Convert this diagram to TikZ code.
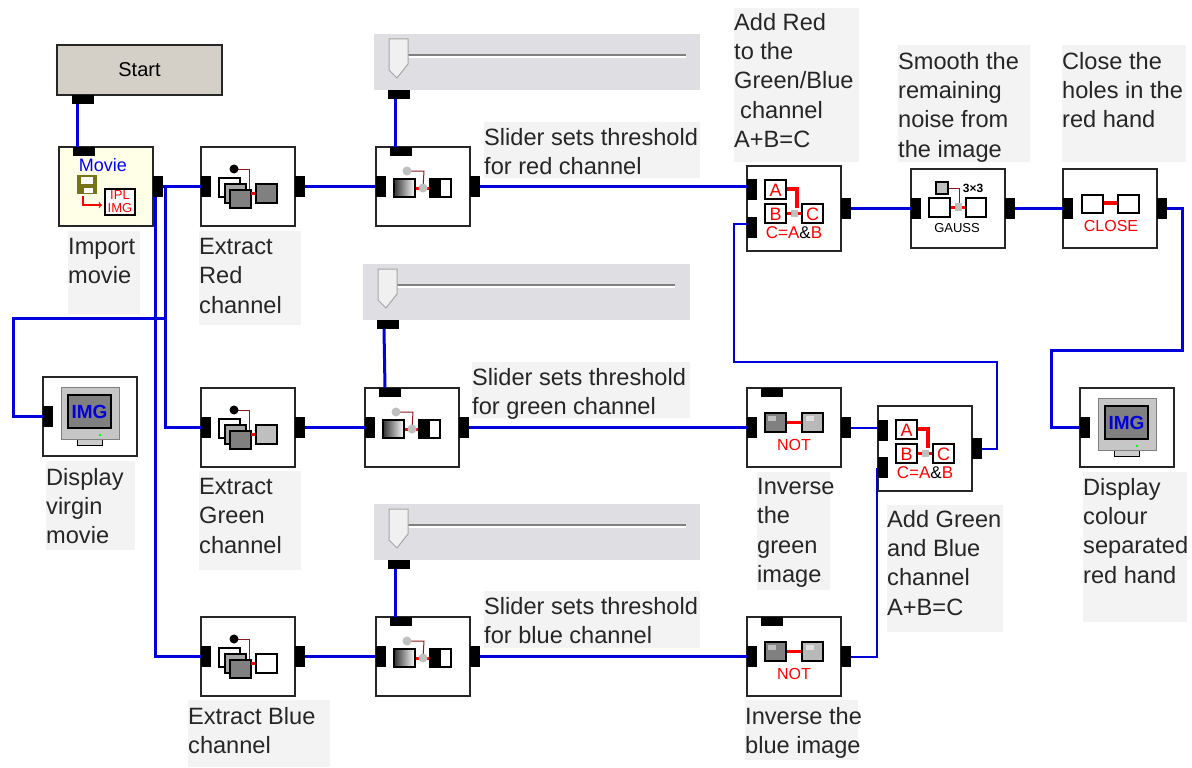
\documentclass[tikz,border=0pt]{standalone}
\usepackage{fontspec}
\setmainfont{Liberation Sans}
\usepackage{tikz}
\usetikzlibrary{calc}

\definecolor{wireblue}{HTML}{0000DD}
\definecolor{notegray}{HTML}{F3F3F3}
\definecolor{panelgray}{HTML}{DEDEE3}
\definecolor{startgray}{HTML}{D4D0C8}
\definecolor{movieyellow}{HTML}{FFFFE8}
\definecolor{inkgray}{HTML}{262626}
\definecolor{linkbrown}{HTML}{8B1A1A}
\definecolor{linkred}{HTML}{FF0000}

\tikzset{
  blockbox/.style={draw=inkgray,line width=1.4pt,fill=white,anchor=north west,inner sep=0pt,outer sep=0pt,minimum width=94pt,minimum height=79pt},
  vport/.style={fill=black,inner sep=0pt,outer sep=0pt,minimum width=10pt,minimum height=21pt},
  hport/.style={fill=black,inner sep=0pt,outer sep=0pt,minimum width=22pt,minimum height=9pt},
  wire/.style={wireblue,line width=3pt},
  thinwire/.style={wireblue,line width=2pt},
  notebg/.style={fill=notegray,inner sep=0pt,outer sep=0pt,anchor=north west},
  notetxt/.style={inner sep=0pt,anchor=north west,align=left,text=inkgray,font=\fontsize{23.6}{29.3}\selectfont,execute at begin node=\strut},
  chip/.style={draw=black,line width=1.2pt},
  tiny/.style={inner sep=0pt,font=\fontsize{#1}{#1}\selectfont},
  % icons, drawn from the top left corner of their block
  pics/extracticon/.style={code={
    \draw[linkbrown,line width=1pt] (33,22) -- (48,22) -- (48,43);
    \fill[black] (33,22) circle (4.5);
    \draw[chip,fill=white] (18,31) rectangle (39,50);
    \draw[chip,fill=gray!70] (24,37) rectangle (45,56);
    \draw[chip,fill=gray] (29,43) rectangle (50,61);
    \draw[linkred,line width=3pt] (50,46) -- (55,46);
    \draw[chip,fill=#1] (55,37) rectangle (76,56);
  }},
  pics/slidericon/.style={code={
    \draw[linkbrown,line width=1pt] (31,24) -- (48,24) -- (47,41);
    \draw[linkred,line width=3pt] (39,41) -- (54,41);
    \draw[chip,left color=black!80,right color=white] (18,32) rectangle (39,50);
    \draw[chip,fill=white] (54,32) rectangle (75,50);
    \fill[black] (54,32) rectangle (65,50);
    \fill[gray!50] (31,24) circle (4.5);
    \fill[gray!50] (47,41) circle (4.5);
  }},
  pics/andicon/.style={code={
    \draw[linkred,line width=4pt] (39,23) -- (50,23) -- (50,42);
    \draw[linkred,line width=3pt] (39,47) -- (55,47);
    \fill[gray!50] (44,44) rectangle (51,51);
    \draw[chip] (18,14) rectangle (39,33);
    \draw[chip] (18,38) rectangle (39,57);
    \draw[chip] (55,38) rectangle (76,57);
    \node[tiny=18,text=linkred] (a-txt) at (28.5,24) {A};
    \node[tiny=18,text=linkred] (b-txt) at (28.5,48) {B};
    \node[tiny=18,text=linkred] (c-txt) at (65.5,48) {C};
    \node[tiny=17,text=linkred] (eq-txt) at (47,67) {C=A\textcolor{black}{\&}B};
  }},
  pics/noticon/.style={code={
    \draw[linkred,line width=3pt] (39,34) -- (55,34);
    \draw[chip,fill=gray] (18,25) rectangle (39,44);
    \fill[gray!50] (21,28) rectangle (29,33);
    \draw[chip,fill=gray!55] (55,25) rectangle (76,44);
    \fill[gray!25] (59,28) rectangle (67,33);
    \node[tiny=16,text=linkred] (not-txt) at (47,57) {NOT};
  }},
  pics/screenicon/.style={code={
    \draw[black,fill=gray!40] (34,60) rectangle (59,68);
    \draw[gray,line width=1pt,fill=gray!45] (18,10) rectangle (76,62);
    \draw[black,line width=1.2pt,fill=gray] (25,18) rectangle (68,51);
    \fill[green] (56,57) rectangle (58,59);
    \node[inner sep=0pt,text=wireblue,font=\fontsize{19}{19}\bfseries\selectfont] (img-txt) at (46.5,35) {IMG};
  }},
  pics/thumbicon/.style={code={
    \draw[gray,line width=2pt] (34,21) -- (312,21);
    \draw[white,line width=1.5pt] (34,23) -- (312,23);
    \draw[gray!70,line width=1pt,fill=gray!12] (15,5) -- (34,5) -- (34,30) -- (23,44) -- (15,36) -- cycle;
  }}
}

\begin{document}
\begin{tikzpicture}[x=1pt,y=-1pt]
  \useasboundingbox (0,0) rectangle (1192,768);

  % Grey panels behind the notes
  \node[notebg,minimum width=72pt,minimum height=83pt] (import-bg) at (68,231) {};
  \node[notebg,minimum width=102pt,minimum height=94pt] (exred-bg) at (199,231) {};
  \node[notebg,minimum width=216pt,minimum height=56pt] (slred-bg) at (484,122) {};
  \node[notebg,minimum width=125pt,minimum height=154pt] (addred-bg) at (734,8) {};
  \node[notebg,minimum width=132pt,minimum height=117pt] (smooth-bg) at (898,45) {};
  \node[notebg,minimum width=124pt,minimum height=117pt] (closing-bg) at (1062,45) {};
  \node[notebg,minimum width=89pt,minimum height=89pt] (virgin-bg) at (46,461) {};
  \node[notebg,minimum width=102pt,minimum height=99pt] (exgreen-bg) at (199,471) {};
  \node[notebg,minimum width=218pt,minimum height=56pt] (slgreen-bg) at (472,362) {};
  \node[notebg,minimum width=73pt,minimum height=118pt] (invgreen-bg) at (757,472) {};
  \node[notebg,minimum width=116pt,minimum height=127pt] (addgreen-bg) at (887,505) {};
  \node[notebg,minimum width=104pt,minimum height=150pt] (colour-bg) at (1083,472) {};
  \node[notebg,minimum width=142pt,minimum height=67pt] (exblue-bg) at (188,700) {};
  \node[notebg,minimum width=216pt,minimum height=57pt] (slblue-bg) at (484,591) {};
  \node[notebg,minimum width=113pt,minimum height=60pt] (invblue-bg) at (745,700) {};

  % Notes
  \node[notetxt] (import) at (68,238) {Import\\movie};
  \node[notetxt] (exred) at (199,238) {Extract\\Red\\channel};
  \node[notetxt] (slred) at (484,128) {Slider sets threshold\\for red channel};
  \node[notetxt] (addrednote) at (734,13) {Add Red\\to the\\Green/Blue\\\hspace*{6pt}channel\\A+B=C};
  \node[notetxt] (smooth) at (898,52) {Smooth the\\remaining\\noise from\\the image};
  \node[notetxt] (closing) at (1062,52) {Close the\\holes in the\\red hand};
  \node[notetxt] (virgin) at (46,468) {Display\\virgin\\movie};
  \node[notetxt] (exgreen) at (199,478) {Extract\\Green\\channel};
  \node[notetxt] (slgreen) at (472,368) {Slider sets threshold\\for green channel};
  \node[notetxt] (invgreen) at (757,478) {Inverse\\the\\green\\image};
  \node[notetxt] (addgreennote) at (887,510) {Add Green\\and Blue\\channel\\A+B=C};
  \node[notetxt] (colour) at (1083,478) {Display\\colour\\separated\\red hand};
  \node[notetxt] (exblue) at (188,707) {Extract Blue\\channel};
  \node[notetxt] (slblue) at (484,597) {Slider sets threshold\\for blue channel};
  \node[notetxt] (invblue) at (745,707) {Inverse the\\blue image};

  % Slider panels
  \node[notebg,fill=panelgray,minimum width=326pt,minimum height=56pt] (thumbred) at (374,34) {};
  \node[notebg,fill=panelgray,minimum width=327pt,minimum height=56pt] (thumbgreen) at (363,264) {};
  \node[notebg,fill=panelgray,minimum width=326pt,minimum height=56pt] (thumbblue) at (374,504) {};
  \pic at (374,34) {thumbicon};
  \pic at (363,264) {thumbicon};
  \pic at (374,504) {thumbicon};

  % Blocks
  \node[blockbox,fill=startgray,minimum width=165pt,minimum height=50pt,font=\fontsize{20}{20}\selectfont] (start) at (57,45) {Start};
  \node[blockbox,fill=movieyellow] (movie) at (59,147) {};
  \node[blockbox] (red) at (201,147) {};
  \node[blockbox] (slideR) at (376,147) {};
  \node[blockbox,minimum height=85pt] (addred) at (747,166) {};
  \node[blockbox] (gauss) at (911,169) {};
  \node[blockbox] (close) at (1063,169) {};
  \node[blockbox] (view) at (43,377) {};
  \node[blockbox] (green) at (201,388) {};
  \node[blockbox] (slideG) at (365,388) {};
  \node[blockbox] (notgreen) at (747,388) {};
  \node[blockbox,minimum height=85pt] (addgreen) at (878,406) {};
  \node[blockbox] (result) at (1080,388) {};
  \node[blockbox] (blue) at (201,617) {};
  \node[blockbox] (slideB) at (376,617) {};
  \node[blockbox] (notblue) at (747,617) {};

  % Ports on the left side
  \foreach \blk in {red,slideR,gauss,close,view,green,slideG,notgreen,result,blue,slideB,notblue}
    \node[vport,anchor=west] (\blk-l) at (\blk.west) {};
  % Ports on the right side
  \foreach \blk in {movie,red,slideR,addred,gauss,close,green,slideG,notgreen,addgreen,blue,slideB,notblue}
    \node[vport,anchor=west] (\blk-r) at (\blk.east) {};
  % Ports on top
  \foreach \blk in {movie,slideR,slideG,notgreen,slideB,notblue}
    \node[hport,anchor=north,xshift=-22.5pt] (\blk-t) at (\blk.north) {};
  % Ports of the two adders
  \node[vport,anchor=north west] (addred-a) at (747,179) {};
  \node[vport,anchor=north west] (addred-b) at (747,217) {};
  \node[vport,anchor=north west] (addgreen-a) at (878,420) {};
  \node[vport,anchor=north west] (addgreen-b) at (878,457) {};
  % Ports under the start block and the sliders
  \node[hport,anchor=north,xshift=-57pt] (start-b) at (start.south) {};
  \node[hport,anchor=north,xshift=-138pt] (thumbred-b) at (thumbred.south) {};
  \node[hport,anchor=north,xshift=-138.5pt] (thumbgreen-b) at (thumbgreen.south) {};
  \node[hport,anchor=north,xshift=-138pt] (thumbblue-b) at (thumbblue.south) {};

  % Icons
  \node[tiny=18,text=blue] (movietxt) at (103,165) {Movie};
  \fill[olive!80!black] (77,175) rectangle (97,194);
  \fill[white] (81,177) rectangle (93,184);
  \fill[white] (84,188) rectangle (93,193);
  \draw[linkred,line width=1.2pt,->] (83,196) -- (83,205) -- (102,205);
  \draw[chip,fill=white] (105,189) rectangle (135,215);
  \node[tiny=12,text=linkred,align=center,font=\fontsize{13}{13}\selectfont] (ipltxt) at (120,202) {IPL\\IMG};
  \pic at (201,147) {extracticon=gray};
  \pic at (201,388) {extracticon=gray!50};
  \pic at (201,617) {extracticon=white};
  \pic at (376,147) {slidericon};
  \pic at (365,388) {slidericon};
  \pic at (376,617) {slidericon};
  \pic at (747,166) {andicon};
  \pic at (878,406) {andicon};
  \pic at (747,388) {noticon};
  \pic at (747,617) {noticon};
  \pic at (43,377) {screenicon};
  \pic at (1080,388) {screenicon};

  % Gauss block
  \draw[linkbrown,line width=1pt] (948,188) -- (959,188) -- (959,207);
  \draw[linkred,line width=3pt] (950,207) -- (966,207);
  \draw[chip,fill=gray!50] (936,182) rectangle (948,194);
  \draw[chip] (929,198) rectangle (950,217);
  \draw[chip] (966,198) rectangle (986,217);
  \fill[gray!50] (955,203) rectangle (962,211);
  \node[tiny=12,font=\fontsize{12}{12}\bfseries\selectfont] (sizetxt) at (973,188) {3×3};
  \node[tiny=13] (gausstxt) at (957,228) {GAUSS};

  % Close block
  \draw[linkred,line width=4pt] (1103,203) -- (1118,203);
  \draw[chip] (1082,195) rectangle (1103,213);
  \draw[chip] (1118,195) rectangle (1139,213);
  \node[tiny=16,text=linkred] (closetxt) at (1111,226) {CLOSE};

  % Turning points of the long wires
  \coordinate (dropblue) at (155,197);
  \coordinate (dropgreen) at (165,186);
  \coordinate (tapview) at (165,318);
  \coordinate (turnview) at (13,318);
  \coordinate (turnresultA) at (1182,350);
  \coordinate (turnresultB) at (1051,350);
  \coordinate (turnaddA) at (997,362);
  \coordinate (turnaddB) at (734,362);

  % Wires
  \draw[wire] ([xshift=-5pt]start-b.south) -- ([xshift=-6pt]movie-t.north);
  \draw[wire] (movie-r.east) -- (red-l.west);
  \draw[wire] (red-r.east) -- (slideR-l.west);
  \draw[wire] (slideR-r.east) -- (slideR-r.east -| addred-a.west);
  \draw[wire] ([xshift=-4pt]thumbred-b.south) -- ([xshift=-5.5pt]slideR-t.north);
  \draw[wire] (dropblue) |- (blue-l.west);
  \draw[wire] (dropgreen) |- (green-l.west);
  \draw[wire] (tapview) -- (turnview) |- (view-l.west);
  \draw[wire] (green-r.east) -- (slideG-l.west);
  \draw[wire] ([xshift=-4pt]thumbgreen-b.south) -- ([xshift=-4.5pt]slideG-t.north);
  \draw[wire] (slideG-r.east) -- (notgreen-l.west);
  \draw[wire] (blue-r.east) -- (slideB-l.west);
  \draw[wire] ([xshift=-4pt]thumbblue-b.south) -- ([xshift=-5.5pt]slideB-t.north);
  \draw[wire] (slideB-r.east) -- (notblue-l.west);
  \draw[wire] (addred-r.east) -- (gauss-l.west);
  \draw[wire] (gauss-r.east) -- (close-l.west);
  \draw[wire] (close-r.east) -| (turnresultA) -- (turnresultB) |- (result-l.west);
  \draw[thinwire] (notgreen-r.east) -- (notgreen-r.east -| addgreen-a.west);
  \draw[thinwire] (notblue-r.east) -| ([xshift=-1pt]addgreen-b.west);
  \draw[thinwire] (addgreen-r.east) -| (turnaddA) -- (turnaddB) |- ([yshift=4pt]addred-b.west);
\end{tikzpicture}
\end{document}
